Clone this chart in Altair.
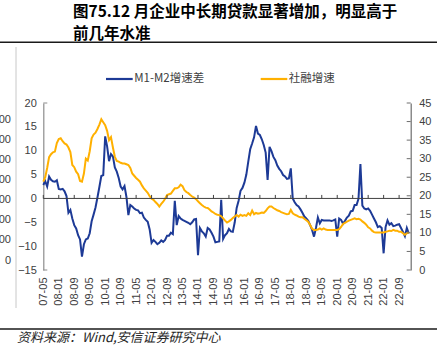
import altair as alt
import pandas as pd

# ---------------- data ----------------
# monthly, from 2007-05 onwards
M1M2 = [2.8, 3.6, 2.5, 4.6, 3.9, 3.6, 3.5, 3.8, 2.0, 1.9,
        2.0, 1.5, 0.5, -3.0, -2.4, -4.2, -5.6, -6.3, -7.7, -8.6,
        -12.2, -9.6, -8.6, -8.4, -7.3, -4.8, -3.4, -1.9, 0.2, 2.4,
        4.7, 4.9, 13.0, 10.9, 7.8, 9.3, 8.8, 6.5, 5.6, 4.3,
        2.5, 1.9, 2.6, 0.3, -3.5, -1.4, -1.7, -2.1, -2.4, -2.5,
        -3.1, -3.0, -4.0, -4.5, -4.9, -6.5, -9.3, -8.7, -9.1, -9.6,
        -9.3, -8.8, -9.1, -8.7, -7.8, -7.8, -7.2, -7.5, -0.5, -5.6,
        -3.7, -4.2, -4.5, -4.7, -4.9, -5.1, -5.4, -5.0, -4.4, -4.3,
        -11.9, -6.2, -6.9, -7.3, -8.0, -6.2, -6.5, -7.2, -8.0, -9.2,
        -9.1, -9.0, -0.3, -8.5, -7.7, -7.3, -6.4, -6.9, -7.0, -5.0,
        -2.0, -0.5, 1.6, 2.2, 3.3, 5.0, 7.7, 10.3, 11.5, 12.8,
        15.2, 13.6, 13.3, 12.4, 11.2, 9.6, 3.9, 10.8, 9.9, 8.7,
        8.0, 6.9, 6.2, 5.7, 4.9, 4.6, 4.1, 4.2, 6.3, 0.0,
        -0.8, -1.4, -1.7, -2.3, -3.0, -3.8, -4.2, -4.7, -5.6, -6.6,
        -8.0, -6.2, -4.0, -5.2, -4.5, -4.6, -4.6, -4.6, -4.6, -4.7,
        -4.6, -4.4, -8.0, -4.2, -4.5, -5.3, -4.7, -4.0, -3.6, -2.7,
        -2.6, -1.4, -1.4, -0.1, 7.2, -1.5, -2.1, -2.3, -2.1, -2.6,
        -3.4, -4.2, -5.0, -6.0, -5.8, -6.2, -11.5, -6.0, -4.6, -5.5,
        -5.2, -5.8, -5.7, -5.5, -5.4, -6.2, -7.0, -7.9, -6.2, -7.3]

TSF = [23.8, 25.0, 27.5, 30.4, 31.2, 31.7, 31.9, 34.2, 35.3, 35.5,
       34.7, 34.1, 33.8, 33.0, 31.8, 28.3, 27.7, 26.5, 25.8, 24.0,
       23.8, 26.0, 30.0, 29.5, 32.0, 35.5, 36.5, 37.0, 38.0, 39.2,
       40.6, 39.8, 39.0, 37.5, 35.0, 35.8, 33.0, 30.5, 29.4, 29.2,
       28.9, 28.7, 28.7, 28.5, 28.3, 27.5, 26.0, 25.4, 24.8, 24.3,
       23.8, 22.8, 22.0, 21.4, 20.8, 19.9, 19.2, 18.9, 18.3, 17.8,
       17.1, 17.8, 18.4, 19.2, 20.2, 20.4, 20.6, 21.3, 22.0, 22.0,
       22.3, 23.0, 22.6, 21.5, 21.0, 20.7, 20.2, 19.8, 19.5, 19.1,
       18.5, 18.0, 17.5, 17.1, 16.8, 16.7, 16.3, 15.8, 15.5, 15.1,
       14.9, 14.8, 14.5, 13.9, 13.3, 12.8, 13.1, 13.5, 14.0, 14.4,
       14.8, 14.4, 14.9, 14.6, 14.8, 14.6, 15.3, 14.8, 16.0, 15.0,
       15.4, 15.2, 15.3, 15.5, 15.4, 15.9, 16.6, 17.1, 17.1, 16.7,
       16.4, 16.1, 15.9, 15.6, 15.4, 15.2, 15.0, 15.1, 16.2, 15.3,
       14.9, 14.7, 14.4, 14.2, 14.2, 13.8, 13.4, 13.0, 12.1, 11.1,
       10.8, 10.8, 10.9, 11.2, 10.9, 11.2, 10.9, 10.8, 10.8, 10.8,
       10.8, 10.8, 10.8, 11.0, 11.6, 12.4, 12.7, 13.0, 13.3, 13.5,
       13.7, 13.9, 13.7, 13.8, 13.6, 13.1, 12.7, 12.2, 11.5, 11.2,
       10.6, 10.2, 10.1, 10.1, 10.1, 10.1, 10.1, 10.3, 10.4, 10.6,
       10.5, 10.8, 10.6, 10.6, 10.3, 10.3, 9.9, 9.5, 9.9, 10.1]

X_LABELS = ["07-05", "08-01", "08-09", "09-05", "10-01", "10-09", "11-05", "12-01",
            "12-09", "13-05", "14-01", "14-09", "15-05", "16-01", "16-09", "17-05",
            "18-01", "18-09", "19-05", "20-01", "20-09", "21-05", "22-01", "22-09"]
LABEL_STEP = 8
LEFT_TICKS = [-15, -10, -5, 0, 5, 10, 15, 20]
RIGHT_TICKS = [0, 5, 10, 15, 20, 25, 30, 35, 40, 45]
SERIES = ["M1-M2增速差", "社融增速"]
TITLE_LINES = ["图75.12 月企业中长期贷款显著增加，明显高于", "前几年水准"]
SOURCE = "资料来源：Wind,安信证券研究中心"
FRAG_LABELS = ["00", "00", "00", "00", "00", "00", "00", "0"]
FRAG_Y = [120, 140, 160, 180, 200, 220, 240, 261]

# ---------------- layout ----------------
W, H = 367.4, 167.0
PL, PT = 43.3, 103.0
PR, PB = 448 - PL - W, 356 - PT - H

BLUE = "#1d3a96"
ORANGE = "#ffb000"
AXC = "#8c8c8c"
TXT = "#404040"
FONT = "Liberation Sans"
CJK = "Noto Sans CJK SC"

df = pd.DataFrame({"n": list(range(len(M1M2))), "m1m2": M1M2, "tsf": TSF})

xscale = alt.Scale(domain=[0, 190], nice=False, zero=False)
lscale = alt.Scale(domain=[-15, 20], nice=False, zero=False)
rscale = alt.Scale(domain=[0, 45], nice=False, zero=False)

label_values = [i * LABEL_STEP for i in range(len(X_LABELS))]
label_expr = "[" + ",".join("'%s'" % s for s in X_LABELS) + "][round(datum.value/%d)]" % LABEL_STEP


def rel_x(a):
    return a - PL


def rel_y(a):
    return a - PT


xaxis = alt.Axis(values=label_values, labelExpr=label_expr, labelAngle=270,
                 domain=False, ticks=False, grid=False, title=None,
                 labelPadding=7, labelFontSize=11, labelFont=FONT,
                 labelColor=TXT, labelOverlap=False, labelFlush=False)

blue = alt.Chart(df).mark_line(color=BLUE, strokeWidth=2).encode(
    x=alt.X("n:Q", scale=xscale, axis=xaxis),
    y=alt.Y("m1m2:Q", scale=lscale,
            axis=alt.Axis(orient="left", values=LEFT_TICKS, title=None, grid=False, ticks=False,
                          domainColor=AXC, domainWidth=1.2, labelPadding=7,
                          labelFontSize=11, labelFont=FONT, labelColor=TXT)),
)

orange = alt.Chart(df).mark_line(color=ORANGE, strokeWidth=2).encode(
    x=alt.X("n:Q", scale=xscale, axis=xaxis),
    y=alt.Y("tsf:Q", scale=rscale,
            axis=alt.Axis(orient="right", values=RIGHT_TICKS, title=None, grid=False,
                          ticks=False, domainColor="#6e6e6e", domainWidth=1.2,
                          labelPadding=8, labelFontSize=11, labelFont=FONT, labelColor=TXT)),
)

zero_line = alt.Chart(pd.DataFrame({"v": [0]})).mark_rule(color="#404040", strokeWidth=1).encode(
    y=alt.Y("v:Q", scale=lscale, axis=None)
)

zero_ticks = alt.Chart(pd.DataFrame({"t": label_values, "z": [0] * len(label_values)})).mark_rule(
    color="#404040", strokeWidth=1).encode(
    x=alt.X("t:Q", scale=xscale, axis=xaxis),
    y=alt.Y("z:Q", scale=lscale, axis=None),
    y2=alt.value(H * 20 / 35 - 3.5),
)

left_end_ticks = alt.Chart(pd.DataFrame({"v": [LEFT_TICKS[0], LEFT_TICKS[-1]]})).mark_rule(
    color=AXC, strokeWidth=1).encode(
    y=alt.Y("v:Q", scale=lscale, axis=None),
    x=alt.value(0), x2=alt.value(4),
)

right_ticks = alt.Chart(pd.DataFrame({"v": RIGHT_TICKS})).mark_rule(color="#6e6e6e", strokeWidth=1).encode(
    y=alt.Y("v:Q", scale=rscale, axis=None),
    x=alt.value(W - 4), x2=alt.value(W),
)

one = pd.DataFrame({"k": [0]})
decor = []

# title
for line, yb in zip(TITLE_LINES, [16.8, 39.0]):
    decor.append(alt.Chart(pd.DataFrame({"t": [line]})).mark_text(
        align="left", baseline="alphabetic", font=CJK, fontSize=15.5, fontWeight="bold",
        color="#000000").encode(text="t:N", x=alt.value(rel_x(73)), y=alt.value(rel_y(yb))))

# separator rules
for yy in [42.3, 329.0]:
    decor.append(alt.Chart(one).mark_rule(color="#1a1a1a", strokeWidth=1.6).encode(
        x=alt.value(rel_x(0)), x2=alt.value(rel_x(437)), y=alt.value(rel_y(yy))))

# source
decor.append(alt.Chart(pd.DataFrame({"t": [SOURCE]})).mark_text(
    align="left", baseline="middle", font=CJK, fontSize=13, fontStyle="italic",
    color="#262626").encode(text="t:N", x=alt.value(rel_x(17)), y=alt.value(rel_y(338))))

# legend
for name, col, x0, x1 in zip(SERIES, [BLUE, ORANGE], [106, 260.7], [132.7, 287.3]):
    decor.append(alt.Chart(one).mark_rule(color=col, strokeWidth=2.2).encode(
        x=alt.value(rel_x(x0)), x2=alt.value(rel_x(x1)), y=alt.value(rel_y(79))))
    decor.append(alt.Chart(pd.DataFrame({"t": [name]})).mark_text(
        align="left", baseline="middle", font=CJK, fontSize=11.5, color=TXT).encode(
        text="t:N", x=alt.value(rel_x(x1 + 1.5)), y=alt.value(rel_y(79))))

# fragments of the neighbouring panel on the left
decor.append(alt.Chart(one).mark_rule(color="#c8c8c8", strokeWidth=1).encode(
    x=alt.value(rel_x(16)), y=alt.value(rel_y(47)), y2=alt.value(rel_y(308))))
for lab, yy in zip(FRAG_LABELS, FRAG_Y):
    decor.append(alt.Chart(pd.DataFrame({"t": [lab]})).mark_text(
        align="right", baseline="middle", font=FONT, fontSize=11, color=TXT).encode(
        text="t:N", x=alt.value(rel_x(11)), y=alt.value(rel_y(yy))))

chart = alt.layer(blue, orange, zero_line, zero_ticks, left_end_ticks, right_ticks, *decor).resolve_scale(
    y="independent").properties(
    width=W, height=H,
    padding={"left": PL, "top": PT, "right": PR, "bottom": PB},
    autosize=alt.AutoSizeParams(type="none"),
    background="white",
).configure_view(strokeWidth=0)

chart.save("out.html", embed_options={"renderer": "svg", "actions": False})
